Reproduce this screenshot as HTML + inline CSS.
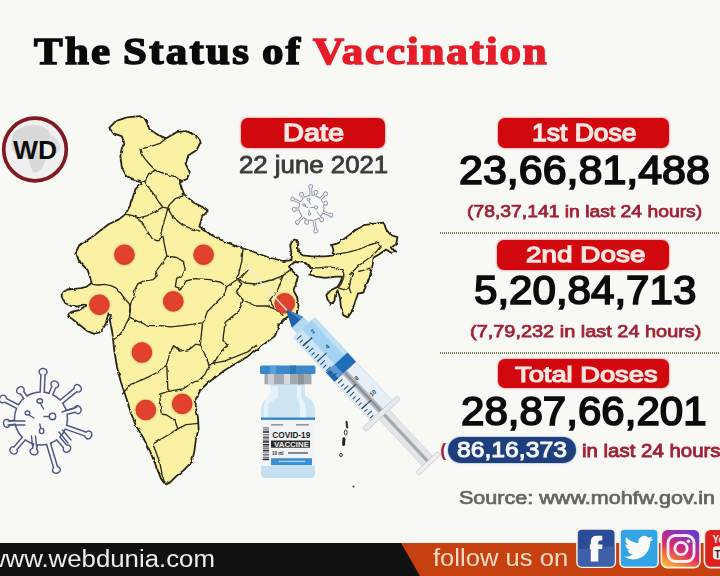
<!DOCTYPE html>
<html><head><meta charset="utf-8">
<style>
html,body{margin:0;padding:0;}
body{width:720px;height:576px;overflow:hidden;position:relative;background:#f8f8f5;font-family:"Liberation Sans",sans-serif;}
.abs{position:absolute;white-space:nowrap;}
.t{position:absolute;white-space:nowrap;line-height:1;transform-origin:0 0;}
.ser{font-family:"Liberation Serif",serif;font-weight:bold;color:#0a0a0a;-webkit-text-stroke:1.5px #0a0a0a;letter-spacing:2px;word-spacing:-2px;}
.ser .r{color:#e61c28;-webkit-text-stroke:1.5px #e61c28;letter-spacing:1.6px;}
.pill{position:absolute;background:#d2080f;border-radius:7px;box-shadow:0 0 1.5px 1px rgba(235,110,110,0.45);}
.pt{font-weight:bold;color:#fbe6e3;}
.big{font-weight:bold;color:#0c0c0c;}
.sub{font-weight:bold;color:#a02236;}
.dots{position:absolute;left:440px;width:282px;height:1.8px;background:repeating-linear-gradient(90deg,#6f8052 0,#6f8052 1px,transparent 1px,transparent 2px);}
</style></head><body>
<div id="title" class="t ser" style="left:34.30px;top:31.76px;font-size:38.00px;transform:scaleX(1.130);">The Status of <span class="r">Vaccination</span></div>

<svg class="abs" style="left:0;top:114px" width="72" height="72" viewBox="0 0 72 72">
 <circle cx="35" cy="35.5" r="32.3" fill="none" stroke="#f2c9c9" stroke-width="1.2"/>
 <circle cx="35" cy="35.5" r="31.3" fill="#f0f0f0" stroke="#7f1a22" stroke-width="3.7"/>
 <path d="M14 18 Q24 10 36 11 Q44 12 48 16 Q52 22 50 26 Q46 30 42 28 Q36 30 38 36 Q44 40 46 46 Q44 52 40 56 Q36 60 33 58 Q30 52 29 46 Q26 42 22 44 Q16 42 12 36 Q10 26 14 18 Z" fill="#d9d9d9"/>
 <path d="M50 20 Q58 24 60 32 Q60 38 56 40 Q54 34 52 30 Q50 26 50 20 Z" fill="#dedede"/>
 <text x="13" y="44.8" font-family="Liberation Sans" font-weight="bold" font-size="25.5" fill="#0e0e0e" textLength="44" lengthAdjust="spacingAndGlyphs">WD</text>
</svg>
<svg class="abs" style="left:0;top:0" width="720" height="576" viewBox="0 0 720 576">
<defs><filter id="wig" x="-5%" y="-5%" width="110%" height="110%"><feTurbulence type="fractalNoise" baseFrequency="0.18" numOctaves="2" seed="4"/><feDisplacementMap in="SourceGraphic" scale="2.8" xChannelSelector="R" yChannelSelector="G"/></filter><radialGradient id="dg"><stop offset="0.7" stop-color="#e8502f" stop-opacity="0.6"/><stop offset="1" stop-color="#f0a050" stop-opacity="0"/></radialGradient></defs>
<path d="M109.2 127.8 L116.1 120.8 L128.6 117.2 L139.7 116.1 L146.7 120.8 L149.4 129.2 L157.8 134.7 L166.1 138.3 L177.2 131.9 L186.9 131.1 L196.7 136.1 L200.8 141.7 L196.7 150.0 L188.3 155.6 L185.6 163.9 L189.7 172.2 L186.9 179.2 L182.8 180.6 L180.0 183.3 L184.2 194.4 L193.9 202.8 L202.2 206.9 L207.8 211.1 L202.2 216.7 L199.4 226.4 L210.6 234.5 L223.0 241.0 L236.0 246.0 L248.0 250.0 L258.0 253.5 L269.0 257.5 L283.3 261.0 L290.3 260.3 L291.3 253.0 L290.2 245.1 L291.3 241.8 L294.7 239.5 L298.0 240.6 L298.0 251.9 L302.6 255.3 L311.6 256.4 L325.1 256.4 L334.2 255.3 L333.0 248.5 L331.9 245.1 L338.7 242.9 L347.7 236.1 L356.7 229.3 L365.8 224.8 L374.8 223.7 L383.8 222.6 L386.1 229.3 L390.6 235.0 L397.4 237.2 L396.2 244.0 L391.7 247.4 L395.1 251.9 L391.7 253.0 L386.1 249.6 L379.3 254.2 L373.7 257.5 L372.5 265.4 L370.3 274.5 L366.9 283.5 L363.5 292.5 L357.9 293.7 L354.5 303.8 L351.1 312.8 L347.7 317.4 L343.2 315.1 L340.9 306.1 L339.8 297.0 L337.5 290.3 L335.3 294.8 L334.2 301.6 L330.8 303.8 L327.4 299.3 L326.3 294.8 L330.8 290.3 L337.5 286.9 L340.9 281.2 L342.1 276.7 L336.4 276.7 L325.1 277.9 L316.1 276.7 L310.5 274.5 L311.6 268.8 L309.3 265.4 L304.8 263.2 L298.0 262.0 L292.4 262.5 L289.0 266.6 L293.5 272.2 L298.0 276.7 L295.8 283.5 L293.5 290.3 L297.0 297.0 L298.5 306.0 L296.5 313.5 L291.0 314.5 L286.0 318.0 L279.3 324.8 L274.8 336.1 L265.8 342.9 L256.7 349.7 L247.7 356.4 L236.4 363.2 L225.1 370.0 L216.1 376.7 L207.1 383.5 L200.3 390.3 L195.8 399.3 L195.8 408.3 L198.0 417.4 L198.6 428.9 L195.8 440.0 L194.4 451.1 L191.7 462.2 L183.3 470.6 L176.4 476.1 L170.8 481.7 L165.3 484.4 L161.1 478.9 L155.6 465.0 L150.0 451.1 L143.0 437.2 L136.1 426.1 L130.6 412.2 L126.4 398.3 L120.8 381.7 L117.0 367.0 L114.2 350.0 L113.0 339.0 L112.3 332.5 L111.0 326.0 L109.7 319.5 L111.0 315.0 L108.4 314.3 L107.1 318.2 L105.8 323.4 L103.2 328.6 L99.3 332.5 L94.1 333.8 L87.6 331.2 L81.0 326.0 L74.5 320.8 L69.3 316.9 L68.0 313.6 L71.9 311.7 L78.5 310.4 L83.0 307.8 L85.6 305.2 L83.0 304.5 L77.1 306.5 L70.6 305.8 L65.4 303.2 L62.8 298.7 L61.5 294.8 L64.1 291.5 L68.0 289.5 L74.5 288.9 L81.0 288.2 L86.3 286.9 L91.5 283.0 L90.2 277.8 L87.6 270.0 L79.4 261.7 L75.3 253.3 L79.4 245.0 L86.4 240.8 L96.1 233.9 L108.6 224.2 L118.9 219.4 L125.8 213.9 L130.0 205.6 L132.8 197.2 L135.6 188.9 L141.1 183.3 L137.0 180.6 L131.4 179.2 L125.8 175.0 L121.7 166.7 L120.3 155.6 L121.7 148.6 L124.4 143.0 L121.7 136.1 L113.3 133.3 Z" fill="#faf2a2"/>
<g filter="url(#wig)">
<path d="M109.2 127.8 L116.1 120.8 L128.6 117.2 L139.7 116.1 L146.7 120.8 L149.4 129.2 L157.8 134.7 L166.1 138.3 L177.2 131.9 L186.9 131.1 L196.7 136.1 L200.8 141.7 L196.7 150.0 L188.3 155.6 L185.6 163.9 L189.7 172.2 L186.9 179.2 L182.8 180.6 L180.0 183.3 L184.2 194.4 L193.9 202.8 L202.2 206.9 L207.8 211.1 L202.2 216.7 L199.4 226.4 L210.6 234.5 L223.0 241.0 L236.0 246.0 L248.0 250.0 L258.0 253.5 L269.0 257.5 L283.3 261.0 L290.3 260.3 L291.3 253.0 L290.2 245.1 L291.3 241.8 L294.7 239.5 L298.0 240.6 L298.0 251.9 L302.6 255.3 L311.6 256.4 L325.1 256.4 L334.2 255.3 L333.0 248.5 L331.9 245.1 L338.7 242.9 L347.7 236.1 L356.7 229.3 L365.8 224.8 L374.8 223.7 L383.8 222.6 L386.1 229.3 L390.6 235.0 L397.4 237.2 L396.2 244.0 L391.7 247.4 L395.1 251.9 L391.7 253.0 L386.1 249.6 L379.3 254.2 L373.7 257.5 L372.5 265.4 L370.3 274.5 L366.9 283.5 L363.5 292.5 L357.9 293.7 L354.5 303.8 L351.1 312.8 L347.7 317.4 L343.2 315.1 L340.9 306.1 L339.8 297.0 L337.5 290.3 L335.3 294.8 L334.2 301.6 L330.8 303.8 L327.4 299.3 L326.3 294.8 L330.8 290.3 L337.5 286.9 L340.9 281.2 L342.1 276.7 L336.4 276.7 L325.1 277.9 L316.1 276.7 L310.5 274.5 L311.6 268.8 L309.3 265.4 L304.8 263.2 L298.0 262.0 L292.4 262.5 L289.0 266.6 L293.5 272.2 L298.0 276.7 L295.8 283.5 L293.5 290.3 L297.0 297.0 L298.5 306.0 L296.5 313.5 L291.0 314.5 L286.0 318.0 L279.3 324.8 L274.8 336.1 L265.8 342.9 L256.7 349.7 L247.7 356.4 L236.4 363.2 L225.1 370.0 L216.1 376.7 L207.1 383.5 L200.3 390.3 L195.8 399.3 L195.8 408.3 L198.0 417.4 L198.6 428.9 L195.8 440.0 L194.4 451.1 L191.7 462.2 L183.3 470.6 L176.4 476.1 L170.8 481.7 L165.3 484.4 L161.1 478.9 L155.6 465.0 L150.0 451.1 L143.0 437.2 L136.1 426.1 L130.6 412.2 L126.4 398.3 L120.8 381.7 L117.0 367.0 L114.2 350.0 L113.0 339.0 L112.3 332.5 L111.0 326.0 L109.7 319.5 L111.0 315.0 L108.4 314.3 L107.1 318.2 L105.8 323.4 L103.2 328.6 L99.3 332.5 L94.1 333.8 L87.6 331.2 L81.0 326.0 L74.5 320.8 L69.3 316.9 L68.0 313.6 L71.9 311.7 L78.5 310.4 L83.0 307.8 L85.6 305.2 L83.0 304.5 L77.1 306.5 L70.6 305.8 L65.4 303.2 L62.8 298.7 L61.5 294.8 L64.1 291.5 L68.0 289.5 L74.5 288.9 L81.0 288.2 L86.3 286.9 L91.5 283.0 L90.2 277.8 L87.6 270.0 L79.4 261.7 L75.3 253.3 L79.4 245.0 L86.4 240.8 L96.1 233.9 L108.6 224.2 L118.9 219.4 L125.8 213.9 L130.0 205.6 L132.8 197.2 L135.6 188.9 L141.1 183.3 L137.0 180.6 L131.4 179.2 L125.8 175.0 L121.7 166.7 L120.3 155.6 L121.7 148.6 L124.4 143.0 L121.7 136.1 L113.3 133.3 Z" fill="none" stroke="#26241a" stroke-width="1.8" stroke-linejoin="round"/>
<path d="M165.8 138.6 L160.0 143.4 L148.6 147.2 L140.0 149.1 L141.0 152.9 L144.8 158.6 L150.5 165.3 L155.3 170.1 L162.0 172.9 L169.6 174.8 L175.3 176.8 L179.2 179.6 L181.0 182.0" fill="none" stroke="#2e2c1e" stroke-width="1.35" stroke-linejoin="round"/>
<path d="M155.3 170.1 L148.6 173.9 L144.8 181.5 L135.3 179.6 L126.0 176.0" fill="none" stroke="#2e2c1e" stroke-width="1.35" stroke-linejoin="round"/>
<path d="M144.8 181.5 L148.6 187.3 L154.4 194.9 L159.1 202.5 L163.0 207.3 L167.7 208.2 L169.6 204.4 L175.3 198.7 L183.0 195.8 L181.0 187.3 L179.2 179.6" fill="none" stroke="#2e2c1e" stroke-width="1.35" stroke-linejoin="round"/>
<path d="M125.7 214.0 L133.4 215.9 L139.0 217.8 L146.7 215.9 L154.4 212.0 L161.0 208.2 L163.0 207.3" fill="none" stroke="#2e2c1e" stroke-width="1.35" stroke-linejoin="round"/>
<path d="M133.4 215.9 L141.0 221.6 L144.8 227.3 L148.6 233.0 L152.4 238.8" fill="none" stroke="#2e2c1e" stroke-width="1.35" stroke-linejoin="round"/>
<path d="M167.7 208.2 L165.8 215.9 L162.9 225.4 L161.0 233.0 L163.9 238.8" fill="none" stroke="#2e2c1e" stroke-width="1.35" stroke-linejoin="round"/>
<path d="M167.7 208.2 L173.4 217.8 L183.0 225.4 L192.5 229.2 L200.2 231.1" fill="none" stroke="#2e2c1e" stroke-width="1.35" stroke-linejoin="round"/>
<path d="M152.4 238.8 L157.2 240.8 L162.8 236.7 L164.2 243.6 L166.9 256.1 L160.0 265.8 L155.8 271.4 L157.2 275.6 L153.0 279.7 L143.3 281.1 L137.8 283.9 L135.0 289.4 L133.6 297.8 L130.8 303.3 L129.4 311.7" fill="none" stroke="#2e2c1e" stroke-width="1.35" stroke-linejoin="round"/>
<path d="M91.5 283.0 L92.8 284.3 L98.0 285.0 L104.5 284.3 L111.0 285.6 L116.2 288.2 L120.1 292.1 L122.8 296.0 L126.0 300.0 L129.3 303.9 L130.5 309.1 L129.4 317.2 L125.3 325.6 L122.5 331.1 L117.0 337.5 L113.2 339.5" fill="none" stroke="#2e2c1e" stroke-width="1.35" stroke-linejoin="round"/>
<path d="M166.9 256.1 L176.7 257.5 L183.6 261.7 L185.0 270.0 L182.2 275.6 L176.7 278.3 L175.3 286.7 L181.0 289.0 L186.0 281.0 L195.0 278.6 L210.0 279.7 L221.0 282.5 L226.7 286.7 L235.0 281.0 L243.0 275.6 L249.0 269.0" fill="none" stroke="#2e2c1e" stroke-width="1.35" stroke-linejoin="round"/>
<path d="M129.4 317.2 L137.8 321.4 L148.9 325.6 L160.0 325.6 L171.1 326.9 L182.2 325.6 L193.3 324.2 L201.7 322.8 L204.4 320.0" fill="none" stroke="#2e2c1e" stroke-width="1.35" stroke-linejoin="round"/>
<path d="M226.7 286.7 L223.9 295.0 L215.6 303.3 L207.2 311.7 L204.4 320.0 L202.6 322.6 L201.4 333.9 L200.3 345.1 L204.8 354.2 L209.3 365.4 L204.8 374.5 L198.0 381.2" fill="none" stroke="#2e2c1e" stroke-width="1.35" stroke-linejoin="round"/>
<path d="M122.2 394.2 L130.6 384.4 L144.4 378.9 L155.6 373.3 L166.7 365.0 L169.4 353.9 L173.6 345.6 L180.6 351.1 L188.9 349.7 L195.8 344.2 L200.3 345.1" fill="none" stroke="#2e2c1e" stroke-width="1.35" stroke-linejoin="round"/>
<path d="M166.7 365.0 L168.0 391.4 L159.7 394.2 L161.1 413.6 L166.7 415.0 L175.0 420.6 L177.8 428.9 L166.7 435.8 L152.8 444.2" fill="none" stroke="#2e2c1e" stroke-width="1.35" stroke-linejoin="round"/>
<path d="M168.0 391.4 L183.3 388.6 L194.4 381.7 L198.0 381.2" fill="none" stroke="#2e2c1e" stroke-width="1.35" stroke-linejoin="round"/>
<path d="M177.8 428.9 L186.1 424.7 L198.6 423.3" fill="none" stroke="#2e2c1e" stroke-width="1.35" stroke-linejoin="round"/>
<path d="M152.8 444.2 L155.6 451.1 L159.7 462.2 L162.5 476.1 L165.3 484.4" fill="none" stroke="#2e2c1e" stroke-width="1.35" stroke-linejoin="round"/>
<path d="M243.2 300.0 L238.7 311.3 L225.1 322.6 L222.9 340.6 L227.4 345.1 L220.6 351.9 L213.9 363.2 L209.3 365.4" fill="none" stroke="#2e2c1e" stroke-width="1.35" stroke-linejoin="round"/>
<path d="M213.9 363.2 L225.1 360.9 L236.4 356.4 L247.7 351.9 L256.7 345.1" fill="none" stroke="#2e2c1e" stroke-width="1.35" stroke-linejoin="round"/>
<path d="M243.0 249.0 L241.7 261.7 L238.9 272.8 L236.0 278.0 L241.7 284.0 L236.0 292.0" fill="none" stroke="#2e2c1e" stroke-width="1.35" stroke-linejoin="round"/>
<path d="M236.0 278.0 L245.0 283.0 L255.6 284.0 L272.0 280.0 L283.0 275.6 L291.7 268.6" fill="none" stroke="#2e2c1e" stroke-width="1.35" stroke-linejoin="round"/>
<path d="M283.0 275.6 L277.8 289.4 L269.4 300.6 L275.0 309.0" fill="none" stroke="#2e2c1e" stroke-width="1.35" stroke-linejoin="round"/>
<path d="M236.0 292.0 L243.2 300.0 L255.6 306.0 L266.7 306.0 L275.0 309.0 L283.3 315.8" fill="none" stroke="#2e2c1e" stroke-width="1.35" stroke-linejoin="round"/>
<path d="M334.2 255.3 L336.4 254.2 L347.4 252.3 L358.3 249.6 L369.2 245.0 L378.3 242.3 L381.0 246.0 L376.5 251.4 L372.9 255.0" fill="none" stroke="#2e2c1e" stroke-width="1.35" stroke-linejoin="round"/>
<path d="M310.0 267.8 L318.2 267.8 L327.3 266.9 L336.4 267.8 L341.9 269.6 L343.7 273.3 L343.7 277.8" fill="none" stroke="#2e2c1e" stroke-width="1.35" stroke-linejoin="round"/>
<path d="M372.9 255.0 L365.6 260.5 L358.3 266.0 L352.8 271.5 L349.2 275.1" fill="none" stroke="#2e2c1e" stroke-width="1.35" stroke-linejoin="round"/>
<path d="M352.8 271.5 L351.0 278.8 L349.2 287.9 L351.0 293.3" fill="none" stroke="#2e2c1e" stroke-width="1.35" stroke-linejoin="round"/>
<path d="M343.7 277.8 L341.0 284.2 L338.3 287.9 L343.7 289.7 L349.2 287.9" fill="none" stroke="#2e2c1e" stroke-width="1.35" stroke-linejoin="round"/>
<path d="M358.3 271.5 L365.6 269.6 L370.7 267.8" fill="none" stroke="#2e2c1e" stroke-width="1.35" stroke-linejoin="round"/>
<path d="M296.0 241.0 L299.0 249.0 L298.0 252.0" fill="none" stroke="#2e2c1e" stroke-width="1.35" stroke-linejoin="round"/>
</g>
<circle cx="124.4" cy="254.7" r="12.3" fill="url(#dg)"/>
<circle cx="124.4" cy="254.7" r="9.8" fill="#e1412d" stroke="#c8391f" stroke-width="0.9"/>
<circle cx="203.6" cy="254.7" r="12.3" fill="url(#dg)"/>
<circle cx="203.6" cy="254.7" r="9.8" fill="#e1412d" stroke="#c8391f" stroke-width="0.9"/>
<circle cx="99.4" cy="304.7" r="12.3" fill="url(#dg)"/>
<circle cx="99.4" cy="304.7" r="9.8" fill="#e1412d" stroke="#c8391f" stroke-width="0.9"/>
<circle cx="173.3" cy="301.4" r="12.3" fill="url(#dg)"/>
<circle cx="173.3" cy="301.4" r="9.8" fill="#e1412d" stroke="#c8391f" stroke-width="0.9"/>
<circle cx="141.9" cy="352.5" r="12.3" fill="url(#dg)"/>
<circle cx="141.9" cy="352.5" r="9.8" fill="#e1412d" stroke="#c8391f" stroke-width="0.9"/>
<circle cx="145.8" cy="410" r="12.3" fill="url(#dg)"/>
<circle cx="145.8" cy="410" r="9.8" fill="#e1412d" stroke="#c8391f" stroke-width="0.9"/>
<circle cx="182.2" cy="403.9" r="12.3" fill="url(#dg)"/>
<circle cx="182.2" cy="403.9" r="9.8" fill="#e1412d" stroke="#c8391f" stroke-width="0.9"/>
<circle cx="284.7" cy="303.3" r="12.3" fill="url(#dg)"/>
<circle cx="284.7" cy="303.3" r="9.8" fill="#e1412d" stroke="#c8391f" stroke-width="0.9"/>
<path d="M346.5 421.8 L347.2 427.4" stroke="#333" stroke-width="2.2" stroke-linecap="round"/>
<ellipse cx="345.7" cy="432.5" rx="1.4" ry="2.6" fill="none" stroke="#333" stroke-width="1"/>
<path d="M343.9 438.8 L343.6 444.4" stroke="#222" stroke-width="3" stroke-linecap="round"/>
<circle cx="341" cy="455" r="1.5" fill="none" stroke="#333" stroke-width="1"/>
<circle cx="353.5" cy="486.4" r="1" fill="#333"/>
<line x1="42.1" y1="395.0" x2="43.0" y2="373.7" stroke="#4f5987" stroke-width="5.60" stroke-linecap="round"/>
<ellipse cx="43.1" cy="371.8" rx="4.06" ry="4.70" transform="rotate(-87 43.1 371.8)" fill="#4f5987"/>
<line x1="49.8" y1="396.7" x2="54.1" y2="386.2" stroke="#4f5987" stroke-width="5.60" stroke-linecap="round"/>
<ellipse cx="54.8" cy="384.4" rx="4.06" ry="4.70" transform="rotate(-68 54.8 384.4)" fill="#4f5987"/>
<line x1="59.1" y1="403.6" x2="76.2" y2="389.5" stroke="#4f5987" stroke-width="5.60" stroke-linecap="round"/>
<ellipse cx="77.7" cy="388.3" rx="4.06" ry="4.70" transform="rotate(-39 77.7 388.3)" fill="#4f5987"/>
<line x1="63.9" y1="413.0" x2="75.8" y2="410.1" stroke="#4f5987" stroke-width="5.60" stroke-linecap="round"/>
<ellipse cx="77.7" cy="409.7" rx="4.06" ry="4.70" transform="rotate(-13 77.7 409.7)" fill="#4f5987"/>
<line x1="63.2" y1="426.2" x2="86.6" y2="434.4" stroke="#4f5987" stroke-width="5.60" stroke-linecap="round"/>
<ellipse cx="88.4" cy="435.0" rx="4.06" ry="4.70" transform="rotate(19 88.4 435.0)" fill="#4f5987"/>
<line x1="56.4" y1="436.3" x2="65.7" y2="447.1" stroke="#4f5987" stroke-width="5.60" stroke-linecap="round"/>
<ellipse cx="67.0" cy="448.6" rx="4.06" ry="4.70" transform="rotate(49 67.0 448.6)" fill="#4f5987"/>
<line x1="47.7" y1="441.0" x2="55.8" y2="468.1" stroke="#4f5987" stroke-width="5.60" stroke-linecap="round"/>
<ellipse cx="56.4" cy="469.9" rx="4.06" ry="4.70" transform="rotate(73 56.4 469.9)" fill="#4f5987"/>
<line x1="36.1" y1="441.5" x2="34.4" y2="449.6" stroke="#4f5987" stroke-width="5.60" stroke-linecap="round"/>
<ellipse cx="34.0" cy="451.5" rx="4.06" ry="4.70" transform="rotate(102 34.0 451.5)" fill="#4f5987"/>
<line x1="25.7" y1="436.4" x2="14.8" y2="449.0" stroke="#4f5987" stroke-width="5.60" stroke-linecap="round"/>
<ellipse cx="13.6" cy="450.5" rx="4.06" ry="4.70" transform="rotate(131 13.6 450.5)" fill="#4f5987"/>
<line x1="17.7" y1="421.8" x2="8.7" y2="423.0" stroke="#4f5987" stroke-width="5.60" stroke-linecap="round"/>
<ellipse cx="6.8" cy="423.3" rx="4.06" ry="4.70" transform="rotate(172 6.8 423.3)" fill="#4f5987"/>
<line x1="20.1" y1="407.8" x2="4.6" y2="399.9" stroke="#4f5987" stroke-width="5.60" stroke-linecap="round"/>
<ellipse cx="2.9" cy="399.0" rx="4.06" ry="4.70" transform="rotate(-153 2.9 399.0)" fill="#4f5987"/>
<line x1="27.1" y1="399.5" x2="21.5" y2="391.9" stroke="#4f5987" stroke-width="5.60" stroke-linecap="round"/>
<ellipse cx="20.4" cy="390.3" rx="4.06" ry="4.70" transform="rotate(-126 20.4 390.3)" fill="#4f5987"/>
<circle cx="41" cy="418.5" r="27.25" fill="#4f5987"/>
<line x1="42.1" y1="395.0" x2="43.0" y2="373.7" stroke="#f9f9f7" stroke-width="2.60" stroke-linecap="round"/>
<ellipse cx="43.1" cy="371.8" rx="2.56" ry="3.20" transform="rotate(-87 43.1 371.8)" fill="#f9f9f7"/>
<line x1="49.8" y1="396.7" x2="54.1" y2="386.2" stroke="#f9f9f7" stroke-width="2.60" stroke-linecap="round"/>
<ellipse cx="54.8" cy="384.4" rx="2.56" ry="3.20" transform="rotate(-68 54.8 384.4)" fill="#f9f9f7"/>
<line x1="59.1" y1="403.6" x2="76.2" y2="389.5" stroke="#f9f9f7" stroke-width="2.60" stroke-linecap="round"/>
<ellipse cx="77.7" cy="388.3" rx="2.56" ry="3.20" transform="rotate(-39 77.7 388.3)" fill="#f9f9f7"/>
<line x1="63.9" y1="413.0" x2="75.8" y2="410.1" stroke="#f9f9f7" stroke-width="2.60" stroke-linecap="round"/>
<ellipse cx="77.7" cy="409.7" rx="2.56" ry="3.20" transform="rotate(-13 77.7 409.7)" fill="#f9f9f7"/>
<line x1="63.2" y1="426.2" x2="86.6" y2="434.4" stroke="#f9f9f7" stroke-width="2.60" stroke-linecap="round"/>
<ellipse cx="88.4" cy="435.0" rx="2.56" ry="3.20" transform="rotate(19 88.4 435.0)" fill="#f9f9f7"/>
<line x1="56.4" y1="436.3" x2="65.7" y2="447.1" stroke="#f9f9f7" stroke-width="2.60" stroke-linecap="round"/>
<ellipse cx="67.0" cy="448.6" rx="2.56" ry="3.20" transform="rotate(49 67.0 448.6)" fill="#f9f9f7"/>
<line x1="47.7" y1="441.0" x2="55.8" y2="468.1" stroke="#f9f9f7" stroke-width="2.60" stroke-linecap="round"/>
<ellipse cx="56.4" cy="469.9" rx="2.56" ry="3.20" transform="rotate(73 56.4 469.9)" fill="#f9f9f7"/>
<line x1="36.1" y1="441.5" x2="34.4" y2="449.6" stroke="#f9f9f7" stroke-width="2.60" stroke-linecap="round"/>
<ellipse cx="34.0" cy="451.5" rx="2.56" ry="3.20" transform="rotate(102 34.0 451.5)" fill="#f9f9f7"/>
<line x1="25.7" y1="436.4" x2="14.8" y2="449.0" stroke="#f9f9f7" stroke-width="2.60" stroke-linecap="round"/>
<ellipse cx="13.6" cy="450.5" rx="2.56" ry="3.20" transform="rotate(131 13.6 450.5)" fill="#f9f9f7"/>
<line x1="17.7" y1="421.8" x2="8.7" y2="423.0" stroke="#f9f9f7" stroke-width="2.60" stroke-linecap="round"/>
<ellipse cx="6.8" cy="423.3" rx="2.56" ry="3.20" transform="rotate(172 6.8 423.3)" fill="#f9f9f7"/>
<line x1="20.1" y1="407.8" x2="4.6" y2="399.9" stroke="#f9f9f7" stroke-width="2.60" stroke-linecap="round"/>
<ellipse cx="2.9" cy="399.0" rx="2.56" ry="3.20" transform="rotate(-153 2.9 399.0)" fill="#f9f9f7"/>
<line x1="27.1" y1="399.5" x2="21.5" y2="391.9" stroke="#f9f9f7" stroke-width="2.60" stroke-linecap="round"/>
<ellipse cx="20.4" cy="390.3" rx="2.56" ry="3.20" transform="rotate(-126 20.4 390.3)" fill="#f9f9f7"/>
<circle cx="41" cy="418.5" r="25.75" fill="#f9f9f7"/>
<g stroke="#4f5987" stroke-width="1.4" fill="none" stroke-linecap="round">
<path d="M40.5 403.5 L43.5 409"/><ellipse cx="39.8" cy="401" rx="2.8" ry="2.2" fill="#fafaf8"/>
<path d="M29 415 L34 418"/><ellipse cx="27.5" cy="413" rx="2.3" ry="2" fill="#fafaf8"/>
<path d="M44 416.5 L49 416.5"/><circle cx="52.5" cy="416.5" r="3.2" fill="#fafaf8"/>
<path d="M39.8 424 L40.8 428.5"/><ellipse cx="41.6" cy="431" rx="2.2" ry="2.6" fill="#fafaf8"/>
<path d="M8 421 L25 421"/><path d="M8 425 L25 425"/>
<path d="M59 432 L68 443"/><path d="M62.5 430 L71 440"/>
<path d="M31.5 436 L32.5 446"/><path d="M35.5 436 L36.5 446"/>
<path d="M62 412 L77 407"/>
</g>
<line x1="311.1" y1="198.3" x2="310.7" y2="187.5" stroke="#8a90ae" stroke-width="2.90" stroke-linecap="round"/>
<ellipse cx="310.7" cy="186.5" rx="2.18" ry="2.50" transform="rotate(-92 310.7 186.5)" fill="#8a90ae"/>
<line x1="314.1" y1="198.7" x2="315.6" y2="193.1" stroke="#8a90ae" stroke-width="2.90" stroke-linecap="round"/>
<ellipse cx="315.9" cy="192.2" rx="2.18" ry="2.50" transform="rotate(-74 315.9 192.2)" fill="#8a90ae"/>
<line x1="318.3" y1="201.1" x2="325.1" y2="194.4" stroke="#8a90ae" stroke-width="2.90" stroke-linecap="round"/>
<ellipse cx="325.8" cy="193.8" rx="2.18" ry="2.50" transform="rotate(-44 325.8 193.8)" fill="#8a90ae"/>
<line x1="320.5" y1="204.8" x2="324.9" y2="203.4" stroke="#8a90ae" stroke-width="2.90" stroke-linecap="round"/>
<ellipse cx="325.8" cy="203.1" rx="2.18" ry="2.50" transform="rotate(-18 325.8 203.1)" fill="#8a90ae"/>
<line x1="320.4" y1="211.1" x2="330.1" y2="214.8" stroke="#8a90ae" stroke-width="2.90" stroke-linecap="round"/>
<ellipse cx="331.0" cy="215.1" rx="2.18" ry="2.50" transform="rotate(21 331.0 215.1)" fill="#8a90ae"/>
<line x1="317.7" y1="215.0" x2="321.1" y2="219.1" stroke="#8a90ae" stroke-width="2.90" stroke-linecap="round"/>
<ellipse cx="321.7" cy="219.8" rx="2.18" ry="2.50" transform="rotate(50 321.7 219.8)" fill="#8a90ae"/>
<line x1="313.3" y1="217.1" x2="315.7" y2="230.3" stroke="#8a90ae" stroke-width="2.90" stroke-linecap="round"/>
<ellipse cx="315.9" cy="231.2" rx="2.18" ry="2.50" transform="rotate(79 315.9 231.2)" fill="#8a90ae"/>
<line x1="308.5" y1="216.8" x2="306.9" y2="221.5" stroke="#8a90ae" stroke-width="2.90" stroke-linecap="round"/>
<ellipse cx="306.6" cy="222.4" rx="2.18" ry="2.50" transform="rotate(109 306.6 222.4)" fill="#8a90ae"/>
<line x1="304.9" y1="214.6" x2="297.9" y2="221.7" stroke="#8a90ae" stroke-width="2.90" stroke-linecap="round"/>
<ellipse cx="297.2" cy="222.4" rx="2.18" ry="2.50" transform="rotate(134 297.2 222.4)" fill="#8a90ae"/>
<line x1="302.0" y1="208.7" x2="295.1" y2="209.3" stroke="#8a90ae" stroke-width="2.90" stroke-linecap="round"/>
<ellipse cx="294.1" cy="209.4" rx="2.18" ry="2.50" transform="rotate(175 294.1 209.4)" fill="#8a90ae"/>
<line x1="302.9" y1="203.8" x2="293.4" y2="199.4" stroke="#8a90ae" stroke-width="2.90" stroke-linecap="round"/>
<ellipse cx="292.5" cy="199.0" rx="2.18" ry="2.50" transform="rotate(-155 292.5 199.0)" fill="#8a90ae"/>
<line x1="305.8" y1="200.2" x2="302.0" y2="195.1" stroke="#8a90ae" stroke-width="2.90" stroke-linecap="round"/>
<ellipse cx="301.4" cy="194.3" rx="2.18" ry="2.50" transform="rotate(-127 301.4 194.3)" fill="#8a90ae"/>
<circle cx="311.5" cy="207.8" r="12.95" fill="#8a90ae"/>
<line x1="311.1" y1="198.3" x2="310.7" y2="187.5" stroke="#f9f9f7" stroke-width="1.10" stroke-linecap="round"/>
<ellipse cx="310.7" cy="186.5" rx="1.28" ry="1.60" transform="rotate(-92 310.7 186.5)" fill="#f9f9f7"/>
<line x1="314.1" y1="198.7" x2="315.6" y2="193.1" stroke="#f9f9f7" stroke-width="1.10" stroke-linecap="round"/>
<ellipse cx="315.9" cy="192.2" rx="1.28" ry="1.60" transform="rotate(-74 315.9 192.2)" fill="#f9f9f7"/>
<line x1="318.3" y1="201.1" x2="325.1" y2="194.4" stroke="#f9f9f7" stroke-width="1.10" stroke-linecap="round"/>
<ellipse cx="325.8" cy="193.8" rx="1.28" ry="1.60" transform="rotate(-44 325.8 193.8)" fill="#f9f9f7"/>
<line x1="320.5" y1="204.8" x2="324.9" y2="203.4" stroke="#f9f9f7" stroke-width="1.10" stroke-linecap="round"/>
<ellipse cx="325.8" cy="203.1" rx="1.28" ry="1.60" transform="rotate(-18 325.8 203.1)" fill="#f9f9f7"/>
<line x1="320.4" y1="211.1" x2="330.1" y2="214.8" stroke="#f9f9f7" stroke-width="1.10" stroke-linecap="round"/>
<ellipse cx="331.0" cy="215.1" rx="1.28" ry="1.60" transform="rotate(21 331.0 215.1)" fill="#f9f9f7"/>
<line x1="317.7" y1="215.0" x2="321.1" y2="219.1" stroke="#f9f9f7" stroke-width="1.10" stroke-linecap="round"/>
<ellipse cx="321.7" cy="219.8" rx="1.28" ry="1.60" transform="rotate(50 321.7 219.8)" fill="#f9f9f7"/>
<line x1="313.3" y1="217.1" x2="315.7" y2="230.3" stroke="#f9f9f7" stroke-width="1.10" stroke-linecap="round"/>
<ellipse cx="315.9" cy="231.2" rx="1.28" ry="1.60" transform="rotate(79 315.9 231.2)" fill="#f9f9f7"/>
<line x1="308.5" y1="216.8" x2="306.9" y2="221.5" stroke="#f9f9f7" stroke-width="1.10" stroke-linecap="round"/>
<ellipse cx="306.6" cy="222.4" rx="1.28" ry="1.60" transform="rotate(109 306.6 222.4)" fill="#f9f9f7"/>
<line x1="304.9" y1="214.6" x2="297.9" y2="221.7" stroke="#f9f9f7" stroke-width="1.10" stroke-linecap="round"/>
<ellipse cx="297.2" cy="222.4" rx="1.28" ry="1.60" transform="rotate(134 297.2 222.4)" fill="#f9f9f7"/>
<line x1="302.0" y1="208.7" x2="295.1" y2="209.3" stroke="#f9f9f7" stroke-width="1.10" stroke-linecap="round"/>
<ellipse cx="294.1" cy="209.4" rx="1.28" ry="1.60" transform="rotate(175 294.1 209.4)" fill="#f9f9f7"/>
<line x1="302.9" y1="203.8" x2="293.4" y2="199.4" stroke="#f9f9f7" stroke-width="1.10" stroke-linecap="round"/>
<ellipse cx="292.5" cy="199.0" rx="1.28" ry="1.60" transform="rotate(-155 292.5 199.0)" fill="#f9f9f7"/>
<line x1="305.8" y1="200.2" x2="302.0" y2="195.1" stroke="#f9f9f7" stroke-width="1.10" stroke-linecap="round"/>
<ellipse cx="301.4" cy="194.3" rx="1.28" ry="1.60" transform="rotate(-127 301.4 194.3)" fill="#f9f9f7"/>
<circle cx="311.5" cy="207.8" r="12.05" fill="#f9f9f7"/>
<g stroke="#8a90ae" stroke-width="1" fill="none" stroke-linecap="round">
<ellipse cx="308.5" cy="199.5" rx="1.5" ry="1.2"/><path d="M309 201 L310.5 204"/>
<ellipse cx="304" cy="205" rx="1.3" ry="1.1"/><path d="M305 206 L307.5 207.5"/>
<circle cx="316" cy="207.5" r="1.7"/><path d="M311 207.5 L314 207.5"/>
<ellipse cx="309.5" cy="214" rx="1.2" ry="1.4"/><path d="M309 210 L309.3 212.5"/>
<path d="M317 212 L321 217"/>
</g>

<g>
 <path d="M271 384 L305 384 L305 396 Q314 400 315 408 L315 473 Q315 478 310 478 L266 478 Q261 478 261 473 L261 408 Q262 400 271 396 Z" fill="#cfe5f3"/>
 <path d="M273 386 L278 386 L278 398 L268 404 L268 476 L264 476 L264 404 Z" fill="#e6f2fa"/>
 <path d="M297 386 L301 386 L301 398 Q306 402 306 410 L306 476 L300 476 L300 410 Q300 402 297 398 Z" fill="#e9f4fb"/>
 <rect x="264.5" y="373.8" width="47" height="10.5" fill="#a1a9b1"/>
 <rect x="268" y="373.8" width="6" height="10.5" fill="#c9cfd4"/>
 <rect x="284" y="373.8" width="6" height="10.5" fill="#d6dadd"/>
 <rect x="298" y="373.8" width="6" height="10.5" fill="#8a929a"/>
 <rect x="260" y="365.6" width="55.5" height="8.4" rx="1.5" fill="#3b89cb"/>
 <rect x="270" y="365.6" width="6" height="8.4" fill="#5aa1da"/>
 <rect x="290" y="365.6" width="6" height="8.4" fill="#2c76b6"/>
 <rect x="261" y="417.5" width="54" height="2.4" fill="#3a86c6"/>
 <rect x="261" y="420" width="54" height="46" fill="#f1f4f6"/>
 <rect x="263" y="427.5" width="6" height="0.8" fill="#2a2a2a"/><rect x="263" y="429.5" width="6" height="0.8" fill="#2a2a2a"/><rect x="263" y="431.2" width="6" height="1.6" fill="#2a2a2a"/><rect x="263" y="434.0" width="6" height="0.6" fill="#2a2a2a"/><rect x="263" y="435.8" width="6" height="0.6" fill="#2a2a2a"/><rect x="263" y="437.3" width="6" height="1.2" fill="#2a2a2a"/><rect x="263" y="439.7" width="6" height="0.8" fill="#2a2a2a"/><rect x="263" y="441.1" width="6" height="1.6" fill="#2a2a2a"/><rect x="263" y="443.9" width="6" height="1.6" fill="#2a2a2a"/><rect x="263" y="446.4" width="6" height="0.8" fill="#2a2a2a"/><rect x="263" y="447.8" width="6" height="0.8" fill="#2a2a2a"/><rect x="263" y="449.8" width="6" height="1.6" fill="#2a2a2a"/><rect x="263" y="452.6" width="6" height="0.6" fill="#2a2a2a"/><rect x="263" y="454.4" width="6" height="0.6" fill="#2a2a2a"/><rect x="263" y="455.6" width="6" height="0.6" fill="#2a2a2a"/><rect x="263" y="457.1" width="6" height="0.6" fill="#2a2a2a"/><rect x="263" y="458.6" width="6" height="1.6" fill="#2a2a2a"/>
 <rect x="271" y="440.5" width="39" height="7.2" fill="#2a2a2a"/>
 <text x="272.3" y="438.4" font-family="Liberation Sans" font-weight="bold" font-size="8.4" fill="#1a1a1a" textLength="38" lengthAdjust="spacingAndGlyphs">COVID-19</text>
 <text x="274" y="446.8" font-family="Liberation Sans" font-weight="bold" font-size="7.6" fill="#f0f0f0" textLength="35" lengthAdjust="spacingAndGlyphs">VACCINE</text>
 <text x="272" y="455" font-family="Liberation Sans" font-weight="bold" font-size="4.5" fill="#333">10 ml</text>
 <rect x="288" y="452" width="20" height="2" fill="#888"/>
 <rect x="271" y="424" width="12" height="1.6" fill="#999"/><rect x="296" y="424" width="13" height="1.6" fill="#999"/>
 <rect x="271" y="458.2" width="41" height="7" fill="#3b8fd1"/>
 <rect x="279" y="460.7" width="26" height="1.4" fill="#a9d1ef"/>
 <path d="M261 466 L315 466 L315 473 Q315 478 310 478 L266 478 Q261 478 261 473 Z" fill="#c3dff0"/>
</g>

<g transform="translate(287,310.4) rotate(47) scale(1,-1)">
  <line x1="-60" y1="0" x2="2" y2="0" stroke="#eaeaec" stroke-width="1.5" opacity="0.9"/>
  <polygon points="0,-1 0,1.2 16.5,7.5 16.5,-8.5" fill="#2260aa"/>
  <polygon points="0,0.6 16.5,7.5 16.5,3.5" fill="#4a8fd2"/>
  <rect x="16" y="-8.5" width="9" height="16" fill="#b3d9f3"/>
  <rect x="24" y="-14" width="117" height="29.5" rx="1" fill="#e6eff5" stroke="#c5d3dd" stroke-width="0.7"/>
  <rect x="24" y="-14" width="48" height="29.5" fill="#cde6f7"/>
  <rect x="24" y="-2" width="48" height="17.5" fill="#a3d3f2"/>
  <rect x="24" y="11" width="48" height="4.5" fill="#bfe0f6"/>
  <rect x="72" y="-14" width="12.5" height="29.5" fill="#1f6db8"/>
  <rect x="72" y="-9" width="12.5" height="7" fill="#5b9ad6"/>
  <rect x="84.5" y="-3" width="56" height="6" fill="#b4b8bc"/>
  <rect x="84.5" y="-1" width="56" height="2" fill="#8a8f94"/>
  <rect x="137.5" y="-25" width="5" height="47" rx="1" fill="#e8ebed" stroke="#c3c9ce" stroke-width="0.8"/>
  <rect x="142.5" y="-7" width="64" height="14" fill="#e3e6e8" stroke="#c8cdd1" stroke-width="0.6"/>
  <rect x="142.5" y="-1.6" width="64" height="3.2" fill="#a6abb0"/>
  <rect x="206" y="-16" width="4.5" height="30" rx="1" fill="#eceeef" stroke="#c3c9ce" stroke-width="0.8"/>
  <g stroke="#284866" stroke-width="1">
<line x1="28.0" y1="-12.5" x2="28.0" y2="-6.5"/><line x1="32.3" y1="-12.5" x2="32.3" y2="-8.5"/><line x1="36.6" y1="-12.5" x2="36.6" y2="-6.5"/><line x1="40.9" y1="-12.5" x2="40.9" y2="-8.5"/><line x1="45.2" y1="-12.5" x2="45.2" y2="-6.5"/><line x1="49.5" y1="-12.5" x2="49.5" y2="-8.5"/><line x1="53.8" y1="-12.5" x2="53.8" y2="-6.5"/><line x1="58.1" y1="-12.5" x2="58.1" y2="-8.5"/><line x1="62.4" y1="-12.5" x2="62.4" y2="-6.5"/><line x1="66.7" y1="-12.5" x2="66.7" y2="-8.5"/><line x1="71.0" y1="-12.5" x2="71.0" y2="-6.5"/><line x1="75.3" y1="-12.5" x2="75.3" y2="-8.5"/><line x1="79.6" y1="-12.5" x2="79.6" y2="-6.5"/><line x1="83.9" y1="-12.5" x2="83.9" y2="-8.5"/><line x1="88.2" y1="-12.5" x2="88.2" y2="-6.5"/><line x1="92.5" y1="-12.5" x2="92.5" y2="-8.5"/><line x1="96.8" y1="-12.5" x2="96.8" y2="-6.5"/><line x1="101.1" y1="-12.5" x2="101.1" y2="-8.5"/><line x1="105.4" y1="-12.5" x2="105.4" y2="-6.5"/><line x1="109.7" y1="-12.5" x2="109.7" y2="-8.5"/><line x1="114.0" y1="-12.5" x2="114.0" y2="-6.5"/><line x1="118.3" y1="-12.5" x2="118.3" y2="-8.5"/><line x1="122.6" y1="-12.5" x2="122.6" y2="-6.5"/><line x1="126.9" y1="-12.5" x2="126.9" y2="-8.5"/><line x1="131.2" y1="-12.5" x2="131.2" y2="-6.5"/><line x1="135.5" y1="-12.5" x2="135.5" y2="-8.5"/>
  </g>
  <g stroke="#284866" stroke-width="1.2">
   <line x1="37" y1="-12.5" x2="37" y2="0"/><line x1="58" y1="-12.5" x2="58" y2="0"/>
   <line x1="101" y1="-12.5" x2="101" y2="0"/><line x1="123" y1="-12.5" x2="123" y2="0"/>
  </g>
  <g fill="#284866" font-family="Liberation Sans" font-size="6" font-weight="bold">
   <text transform="translate(35,3) scale(1,-1) rotate(-90)">2</text>
   <text transform="translate(56,3) scale(1,-1) rotate(-90)">4</text>
   <text transform="translate(99,3) scale(1,-1) rotate(-90)">8</text>
   <text transform="translate(121,3) scale(1,-1) rotate(-90)">10</text>
  </g>
</g>
</svg>
<div class="pill" style="left:241.2px;top:118.2px;width:144.2px;height:30px;"></div>
<div id="date" class="t pt" style="left:282.85px;top:121.88px;font-size:23.20px;transform:scaleX(1.249);font-weight:normal;-webkit-text-stroke:1.28px currentColor;">Date</div>
<div id="dt" class="t" style="left:238.73px;top:153.17px;font-size:24.05px;transform:scaleX(1.073);font-weight:normal;-webkit-text-stroke:0.87px currentColor;color:#3b3b3b;">22 june 2021</div>

<div class="pill" style="left:497.5px;top:117.5px;width:171.2px;height:30px;"></div>
<div id="t1" class="t pt" style="left:531.68px;top:121.61px;font-size:23.73px;transform:scaleX(1.116);font-weight:normal;-webkit-text-stroke:1.31px currentColor;">1st Dose</div>
<div id="n1" class="t big" style="left:459.31px;top:150.78px;font-size:40.14px;transform:scaleX(1.071);font-weight:normal;-webkit-text-stroke:1.69px currentColor;">23,66,81,488</div>
<div id="s1" class="t sub" style="left:467.48px;top:202.77px;font-size:16.35px;transform:scaleX(1.182);font-weight:normal;-webkit-text-stroke:0.75px currentColor;">(78,37,141 in last 24 hours)</div>
<div class="dots" style="top:232.3px;"></div>

<div class="pill" style="left:497px;top:239.7px;width:171.6px;height:30.7px;"></div>
<div id="t2" class="t pt" style="left:525.74px;top:243.02px;font-size:22.93px;transform:scaleX(1.217);font-weight:normal;-webkit-text-stroke:1.26px currentColor;">2nd Dose</div>
<div id="n2" class="t big" style="left:474.16px;top:270.25px;font-size:41.10px;transform:scaleX(1.024);font-weight:normal;-webkit-text-stroke:1.73px currentColor;">5,20,84,713</div>
<div id="s2" class="t sub" style="left:469.80px;top:323.47px;font-size:16.35px;transform:scaleX(1.219);font-weight:normal;-webkit-text-stroke:0.75px currentColor;">(7,79,232 in last 24 hours)</div>
<div class="dots" style="top:352.4px;"></div>

<div class="pill" style="left:497.5px;top:358.75px;width:171.25px;height:29.25px;"></div>
<div id="t3" class="t pt" style="left:515.00px;top:363.68px;font-size:22.64px;transform:scaleX(1.206);font-weight:normal;-webkit-text-stroke:1.24px currentColor;">Total Doses</div>
<div id="n3" class="t big" style="left:461.34px;top:390.81px;font-size:40.68px;transform:scaleX(1.034);font-weight:normal;-webkit-text-stroke:1.71px currentColor;">28,87,66,201</div>
<div id="p3" class="t sub" style="left:440.2px;top:441.5px;font-size:17.8px;">(</div>
<div style="position:absolute;left:448.2px;top:437.1px;width:128.2px;height:26.2px;border-radius:13.1px;background:#1d3f7d;box-shadow:0 0 1px 1px rgba(160,180,220,0.5);"></div>
<div id="b3" class="t pt" style="left:456.51px;top:439.35px;font-size:21.89px;transform:scaleX(1.129);font-weight:normal;-webkit-text-stroke:0.99px currentColor;color:#f7f7f9;">86,16,373</div>
<div id="s3" class="t sub" style="left:581.88px;top:442.33px;font-size:18.24px;transform:scaleX(1.120);font-weight:normal;-webkit-text-stroke:0.84px currentColor;">in last 24 hours)</div>
<div id="src" class="t" style="left:458.57px;top:489.72px;font-size:17.57px;transform:scaleX(1.227);font-weight:normal;-webkit-text-stroke:0.70px currentColor;color:#666;">Source: www.mohfw.gov.in</div>

<div style="position:absolute;left:0;top:543px;width:720px;height:33px;background:#111;"></div>
<svg class="abs" style="left:0;top:543px;" width="720" height="33"><polygon points="401,0 720,0 720,33 420,33" fill="#c6410f"/></svg>
<div id="wd" class="t" style="left:-13px;top:546.82px;font-size:23.97px;transform:scaleX(1.076);color:#ededed;">www.webdunia.com</div>
<div id="fu" class="t" style="left:433.14px;top:546.37px;font-size:24.38px;transform:scaleX(1.050);color:#f7dcc6;">follow us on</div>

<svg class="abs" style="left:570px;top:524px" width="150" height="52" viewBox="570 524 150 52">
 <defs>
  <linearGradient id="ig" x1="0.1" y1="1" x2="0.6" y2="0">
   <stop offset="0" stop-color="#fbc445"/><stop offset="0.25" stop-color="#f57a32"/><stop offset="0.5" stop-color="#dd2a6a"/><stop offset="0.8" stop-color="#a02fa8"/><stop offset="1" stop-color="#6a3cc6"/>
  </linearGradient>
 </defs>
 <rect x="577" y="529" width="38.3" height="38.2" rx="4.8" fill="#2c4c99" stroke="#f7efe8" stroke-width="1.6"/>
 <path d="M577.8 549.3 L614.5 546.3 L614.5 562 Q614.5 566.4 610.2 566.4 L582.2 566.4 Q577.8 566.4 577.8 562 Z" fill="#3e60ab"/>
 <path d="M590.8 561.6 L590.8 549 L589.8 549 L589.8 544.6 L590.8 544.6 L590.8 541.5 Q590.8 535.8 597 535.8 L602.3 535.8 L602.3 540.4 L600 540.4 Q598.3 540.4 598.3 542.2 L598.3 544.6 L602.6 544.6 L602.1 549 L598.3 549 L598.3 561.6 Z" fill="#fbfbfb"/>
 <rect x="620" y="529" width="38.2" height="38.2" rx="4.8" fill="#32a5e6" stroke="#f7efe8" stroke-width="1.6"/>
 <path transform="translate(624.3,533.3) scale(1.2)" d="M23.953 4.57a10 10 0 01-2.825.775 4.958 4.958 0 002.163-2.723c-.951.555-2.005.959-3.127 1.184a4.92 4.92 0 00-8.384 4.482C7.69 8.095 4.067 6.13 1.64 3.162a4.822 4.822 0 00-.666 2.475c0 1.71.87 3.213 2.188 4.096a4.904 4.904 0 01-2.228-.616v.06a4.923 4.923 0 003.946 4.827 4.996 4.996 0 01-2.212.085 4.936 4.936 0 004.604 3.417 9.867 9.867 0 01-6.102 2.105c-.39 0-.779-.023-1.17-.067a13.995 13.995 0 007.557 2.209c9.053 0 13.998-7.496 13.998-13.985 0-.21 0-.42-.015-.63A9.935 9.935 0 0024 4.59z" fill="#fbfbfb"/>
 <rect x="661.3" y="529.3" width="38.7" height="38.3" rx="6" fill="url(#ig)" stroke="#f7efe8" stroke-width="1.6"/>
 <rect x="668" y="535.5" width="26" height="26" rx="7.5" fill="none" stroke="#fbeef6" stroke-width="2.8"/>
 <circle cx="681" cy="548.5" r="6.2" fill="none" stroke="#fbeef6" stroke-width="2.8"/>
 <circle cx="688.4" cy="541.3" r="1.8" fill="#fbeef6"/>
 <rect x="704.4" y="529.3" width="30" height="38.3" rx="6" fill="#dd221d" stroke="#f7efe8" stroke-width="1.6"/>
 <text x="712.5" y="542.5" font-family="Liberation Sans" font-weight="bold" font-size="10" fill="#f8ece8">You</text>
 <rect x="712.9" y="546.2" width="14" height="13.4" rx="3.5" fill="#f8ece8"/>
 <text x="714.5" y="557.5" font-family="Liberation Sans" font-weight="bold" font-size="10" fill="#3a2020">Tu</text>
</svg>
</body></html>
